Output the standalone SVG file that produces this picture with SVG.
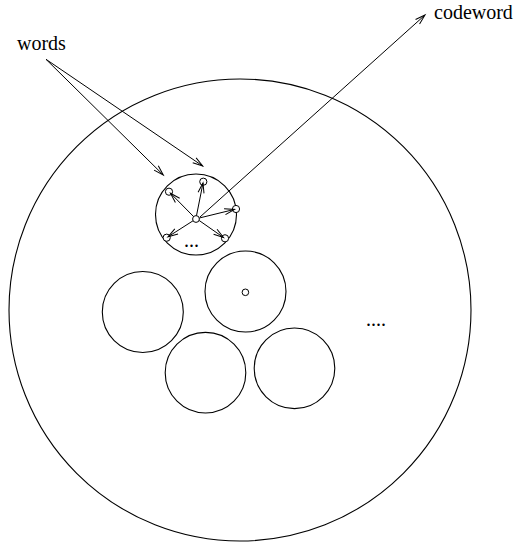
<svg xmlns="http://www.w3.org/2000/svg" width="517" height="543" viewBox="0 0 517 543">
<defs>
<style>
.c{fill:none;stroke:#000;stroke-width:1.1}
.d{fill:#fff;stroke:#000;stroke-width:1}
.l{fill:none;stroke:#000;stroke-width:1}
.t{font-family:"Liberation Serif","Times New Roman",serif;font-size:20px;fill:#000}
</style>
<marker id="ah" markerUnits="userSpaceOnUse" markerWidth="14" markerHeight="10" refX="11" refY="5" orient="auto" viewBox="0 0 14 10">
<path d="M1,2 L11,5 L1,8" fill="none" stroke="#000" stroke-width="1"/>
</marker>
</defs>
<g id="big"><circle class="c" cx="240" cy="310" r="231"/></g>
<g id="cluster"><circle class="c" cx="196" cy="214.5" r="40.5"/></g>
<g id="c2"><circle class="c" cx="245.5" cy="291.5" r="40.5"/><circle class="d" cx="245.4" cy="292.3" r="3.3"/></g>
<g id="c3"><circle class="c" cx="142.8" cy="312" r="40.5"/></g>
<g id="c4"><circle class="c" cx="205.5" cy="372.7" r="40.3"/></g>
<g id="c5"><circle class="c" cx="294.5" cy="368.3" r="40.3"/></g>
<g id="dots">
<circle class="d" cx="196" cy="219" r="3.4"/>
<circle class="d" cx="169" cy="191.7" r="3.6"/>
<circle class="d" cx="203.3" cy="181.7" r="3.6"/>
<circle class="d" cx="236" cy="209" r="3.6"/>
<circle class="d" cx="225" cy="238.3" r="3.6"/>
<circle class="d" cx="166.7" cy="237.7" r="3.6"/>
</g>
<g id="connectors">
<line class="l" x1="46" y1="59.3" x2="163.3" y2="175" marker-end="url(#ah)"/>
<line class="l" x1="46" y1="59.3" x2="202.7" y2="166" marker-end="url(#ah)"/>
<line class="l" x1="200" y1="217" x2="425" y2="15" marker-end="url(#ah)"/>
<line class="l" x1="193.6" y1="216.6" x2="170.5" y2="193.2" marker-end="url(#ah)"/>
<line class="l" x1="196.5" y1="215.6" x2="203" y2="183" marker-end="url(#ah)"/>
<line class="l" x1="199.3" y1="218" x2="234.5" y2="209.4" marker-end="url(#ah)"/>
<line class="l" x1="199.2" y1="220.5" x2="223.5" y2="237.5" marker-end="url(#ah)"/>
<line class="l" x1="193" y1="220.8" x2="168" y2="236.8" marker-end="url(#ah)"/>
</g>
<g id="labels">
<text class="t" x="17" y="50">words</text>
<text class="t" x="434" y="19">codeword</text>
<text class="t" x="184" y="247">...</text>
<text class="t" x="366" y="326">....</text>
</g>
</svg>
